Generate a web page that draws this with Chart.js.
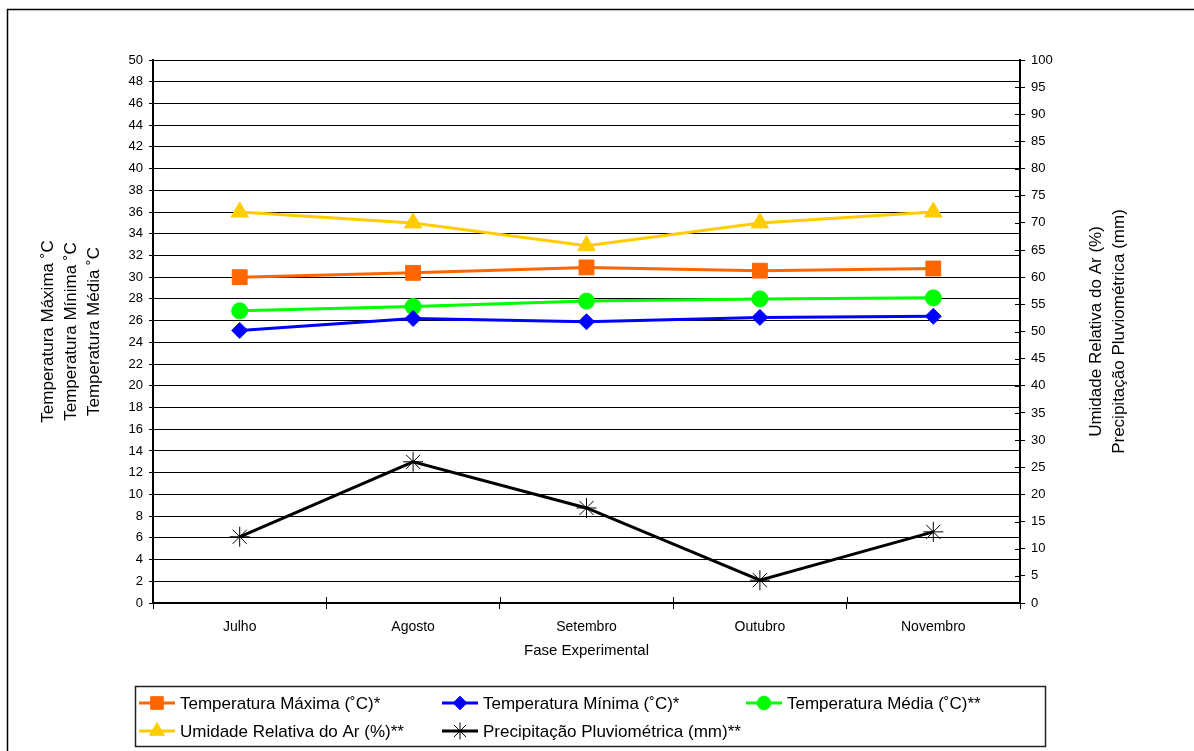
<!DOCTYPE html>
<html>
<head>
<meta charset="utf-8">
<script src="https://cdn.jsdelivr.net/npm/chart.js@4.4.1/dist/chart.umd.min.js"></script>
<style>
  html, body { margin: 0; padding: 0; background: #fff; }
  #wrap { width: 1194px; height: 751px; position: relative; }
</style>
</head>
<body>
<div id="wrap"><canvas id="c" width="1194" height="751"></canvas></div>
<script>
// Monthly climate record of the experimental phase
const months = ['Julho', 'Agosto', 'Setembro', 'Outubro', 'Novembro'];
const tempMax = [30.0, 30.4, 30.9, 30.6, 30.8];   // °C
const tempMin = [25.1, 26.2, 25.9, 26.3, 26.4];   // °C
const tempMed = [26.9, 27.3, 27.8, 28.0, 28.1];   // °C
const umidade = [72, 70, 65.8, 70, 72];           // %
const precip  = [12.2, 26.0, 17.5, 4.2, 13.1];    // mm

const leftTitle  = ['Temperatura Máxima ˚C', 'Temperatura Mínima ˚C', 'Temperatura Média ˚C'];
const rightTitle = ['Umidade Relativa do Ar (%)', 'Precipitação Pluviométrica (mm)'];
const xTitle = 'Fase Experimental';

const FONT = "'Liberation Sans', Arial, sans-serif";

function series(label, data, color, style, radius, axis) {
  return {
    label, data, yAxisID: axis,
    borderColor: color, backgroundColor: color,
    borderWidth: 3,
    pointStyle: style, pointRadius: radius, pointHoverRadius: radius,
    pointBackgroundColor: color, pointBorderColor: color, pointBorderWidth: 1,
    tension: 0, fill: false
  };
}

const datasets = [
  series('Temperatura Máxima (˚C)*', tempMax, '#FF6600', 'rect', 10.5, 'y'),
  series('Temperatura Mínima (˚C)*', tempMin, '#0000FF', 'rectRot', 8, 'y'),
  series('Temperatura Média (˚C)**', tempMed, '#00FF00', 'circle', 8, 'y'),
  series('Umidade Relativa do Ar (%)**', umidade, '#FFCC00', 'triangle', 10, 'y2'),
  series('Precipitação Pluviométrica (mm)**', precip, '#000000', 'star', 10, 'y2')
];

function marker(ctx, style, radius, x, y, color) {
  ctx.save();
  ctx.fillStyle = color; ctx.strokeStyle = color; ctx.lineWidth = 1;
  if (Chart.helpers && Chart.helpers.drawPoint) {
    Chart.helpers.drawPoint(ctx, { pointStyle: style, radius: radius, borderWidth: 1, rotation: 0 }, x, y);
  }
  ctx.restore();
}

const decorations = {
  id: 'decorations',
  afterDraw(chart) {
    const ctx = chart.ctx;
    const area = chart.chartArea;
    const xs = chart.scales.x, y2 = chart.scales.y2;
    ctx.save();

    // inner halves of the cross-shaped tick marks
    ctx.strokeStyle = '#000'; ctx.lineWidth = 1;
    ctx.beginPath();
    y2.ticks.forEach((t, i) => {
      const py = Math.round(y2.getPixelForTick(i)) + 0.5;
      ctx.moveTo(area.right - 5, py); ctx.lineTo(area.right, py);
    });
    const step = xs.getPixelForTick(1) - xs.getPixelForTick(0);
    for (let i = 0; i <= months.length; i++) {
      const px = Math.round(xs.getPixelForTick(0) - step / 2 + i * step) + 0.5;
      ctx.moveTo(px, area.bottom); ctx.lineTo(px, area.bottom - 6);
    }
    ctx.stroke();

    // axis titles
    ctx.fillStyle = '#000';
    ctx.font = '17px ' + FONT;
    ctx.textAlign = 'center'; ctx.textBaseline = 'middle';
    const cy = (area.top + area.bottom) / 2;
    leftTitle.forEach((t, i) => {
      ctx.save(); ctx.translate(48 + i * 23, cy); ctx.rotate(-Math.PI / 2);
      ctx.fillText(t, 0, 0); ctx.restore();
    });
    rightTitle.forEach((t, i) => {
      ctx.save(); ctx.translate(1096 + i * 23, cy); ctx.rotate(-Math.PI / 2);
      ctx.fillText(t, 0, 0); ctx.restore();
    });
    ctx.font = '15px ' + FONT;
    ctx.fillText(xTitle, (area.left + area.right) / 2, 651);

    // legend box
    ctx.strokeStyle = '#222'; ctx.lineWidth = 1.5;
    ctx.strokeRect(135.5, 686.5, 910, 60);
    const cols = [139, 442, 746], rows = [703, 731];
    chart.data.datasets.forEach((ds, i) => {
      const x0 = cols[i % 3], yy = rows[Math.floor(i / 3)];
      ctx.strokeStyle = ds.borderColor; ctx.lineWidth = 3;
      ctx.beginPath(); ctx.moveTo(x0, yy); ctx.lineTo(x0 + 36, yy); ctx.stroke();
      marker(ctx, ds.pointStyle, ds.pointRadius * 0.85, x0 + 18, yy, ds.pointBackgroundColor);
      ctx.fillStyle = '#000';
      ctx.font = '17px ' + FONT;
      ctx.textAlign = 'left';
      ctx.fillText(ds.label, x0 + 41, yy + 1);
    });

    // outer frame
    ctx.strokeStyle = '#000'; ctx.lineWidth = 1.5;
    ctx.strokeRect(7.5, 9.5, 1400, 1000);
    ctx.restore();
  }
};

new Chart(document.getElementById('c'), {
  type: 'line',
  data: { labels: months, datasets },
  plugins: [decorations],
  options: {
    responsive: false,
    animation: false,
    devicePixelRatio: 1,
    layout: { padding: { top: 60, left: 0, right: 0, bottom: 0 } },
    plugins: { legend: { display: false }, tooltip: { enabled: false } },
    scales: {
      x: {
        type: 'category',
        offset: true,
        grid: { offset: true, drawOnChartArea: false, drawTicks: true, tickLength: 6, color: '#000', lineWidth: 1 },
        border: { display: true, color: '#000', width: 2 },
        ticks: { color: '#000', font: { family: FONT, size: 14 }, padding: 10, maxRotation: 0 },
        afterFit(s) { s.height = 148; }
      },
      y: {
        position: 'left',
        min: 0, max: 50,
        grid: { color: '#000', lineWidth: 1, tickLength: 4 },
        border: { display: true, color: '#000', width: 2 },
        ticks: { stepSize: 2, color: '#000', font: { family: FONT, size: 13 }, padding: 6 },
        afterFit(s) { s.width = 153; }
      },
      y2: {
        position: 'right',
        min: 0, max: 100,
        grid: { drawOnChartArea: false, color: '#000', lineWidth: 1, tickLength: 5 },
        border: { display: true, color: '#000', width: 2 },
        ticks: { stepSize: 5, color: '#000', font: { family: FONT, size: 13 }, padding: 6 },
        afterFit(s) { s.width = 174; }
      }
    }
  }
});
</script>
</body>
</html>
